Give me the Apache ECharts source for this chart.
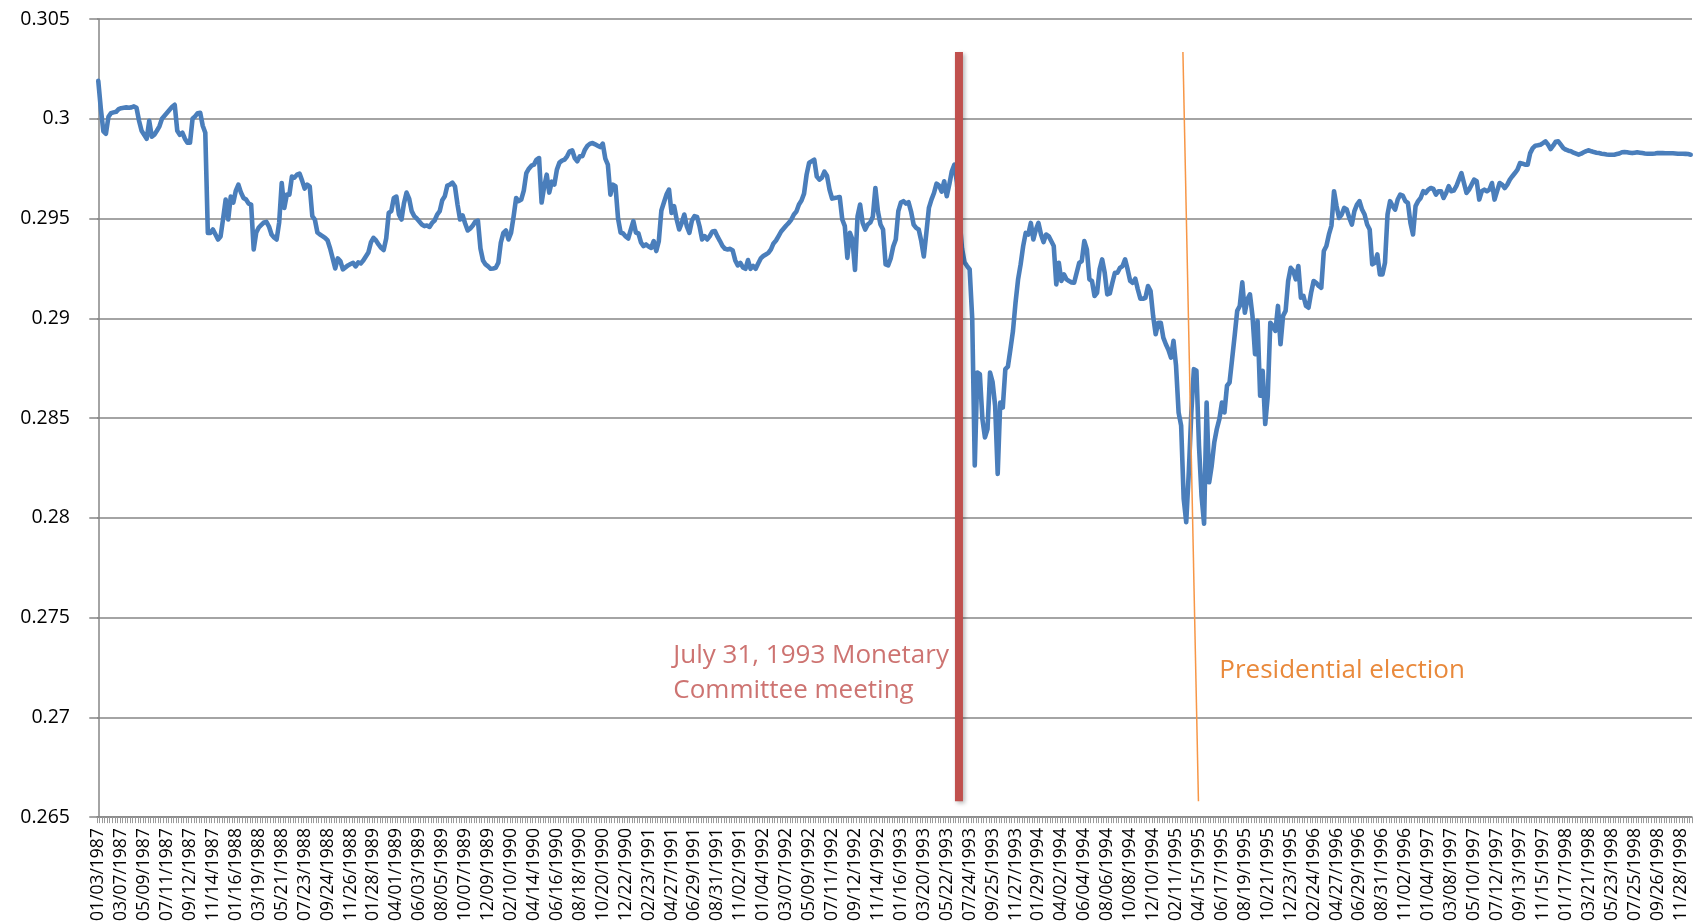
<!DOCTYPE html>
<html>
<head>
<meta charset="utf-8">
<script src="https://cdn.jsdelivr.net/npm/echarts@6/dist/echarts.min.js"></script>
<style>
  html, body { margin: 0; padding: 0; background: #ffffff; }
  #chart { width: 1702px; height: 924px; }
</style>
</head>
<body>
<div id="chart"></div>
<script>
// ---------------- DATA ----------------
// Weekly observations, first week ending 01/03/1987 (one value per week).
const FIRST_WEEK = '1987-01-03';
const LABEL_EVERY = 9; // one tick label every 9 weeks

const seriesValues = [
  // 0
  0.3019, 0.3005, 0.29937, 0.29925, 0.3001, 0.30028, 0.30032, 0.30035, 0.30048, 0.30053,
  // 10
  0.30055, 0.30057, 0.30055, 0.30057, 0.30062, 0.30055, 0.2999, 0.2994, 0.2992, 0.2990,
  // 20
  0.2999, 0.2991, 0.2992, 0.2994, 0.29962, 0.3000, 0.30015, 0.3003, 0.30045, 0.3006,
  // 30
  0.3007, 0.2994, 0.2992, 0.2993, 0.2990, 0.2988, 0.2988, 0.3000, 0.30012, 0.30028,
  // 40
  0.3003, 0.29965, 0.2993, 0.29428, 0.29428, 0.29445, 0.2942, 0.29395, 0.2941, 0.2950,
  // 50
  0.29595, 0.29495, 0.2961, 0.2958, 0.2964, 0.2967, 0.2963, 0.29603, 0.29595, 0.29575,
  // 60
  0.2957, 0.29345, 0.2943, 0.29455, 0.29468, 0.2948, 0.29483, 0.2946, 0.2942, 0.29405,
  // 70
  0.29395, 0.2948, 0.29678, 0.29553, 0.2962, 0.2962, 0.2971, 0.29705, 0.2972, 0.29725,
  // 80
  0.2969, 0.2965, 0.2967, 0.2966, 0.29512, 0.29495, 0.2943, 0.2942, 0.29412, 0.29403,
  // 90
  0.2939, 0.2935, 0.2930, 0.2925, 0.2930, 0.29287, 0.29245, 0.29255, 0.29265, 0.29272,
  // 100
  0.29278, 0.2926, 0.2928, 0.29275, 0.2929, 0.2931, 0.2933, 0.2938, 0.29403, 0.2939,
  // 110
  0.2937, 0.29353, 0.29342, 0.2940, 0.29528, 0.29537, 0.29603, 0.2961, 0.2952, 0.29495,
  // 120
  0.29578, 0.2963, 0.2960, 0.29537, 0.29512, 0.2950, 0.29485, 0.2947, 0.29462, 0.29465,
  // 130
  0.29458, 0.29478, 0.2949, 0.2952, 0.29537, 0.29592, 0.29612, 0.29665, 0.2967, 0.2968,
  // 140
  0.2966, 0.2957, 0.29495, 0.29515, 0.29475, 0.2944, 0.2945, 0.29465, 0.29485, 0.2949,
  // 150
  0.2935, 0.2929, 0.2927, 0.2926, 0.29248, 0.2925, 0.29253, 0.29278, 0.2938, 0.29428,
  // 160
  0.2944, 0.29395, 0.29428, 0.2951, 0.29603, 0.29587, 0.29595, 0.2964, 0.29728, 0.2975,
  // 170
  0.29765, 0.2977, 0.29795, 0.29803, 0.2958, 0.2966, 0.2972, 0.2963, 0.29685, 0.2967,
  // 180
  0.29745, 0.2978, 0.2979, 0.29795, 0.29812, 0.29837, 0.29842, 0.29803, 0.29787, 0.29812,
  // 190
  0.29812, 0.29845, 0.29865, 0.29875, 0.29878, 0.29872, 0.29865, 0.29858, 0.29875, 0.2980,
  // 200
  0.2977, 0.2962, 0.2967, 0.29662, 0.2950, 0.2943, 0.29425, 0.2941, 0.2940, 0.29445,
  // 210
  0.29487, 0.2943, 0.29425, 0.2938, 0.29362, 0.2937, 0.2936, 0.29353, 0.29387, 0.29337,
  // 220
  0.29387, 0.2954, 0.2958, 0.2962, 0.29645, 0.29528, 0.29562, 0.29495, 0.29445, 0.29478,
  // 230
  0.2952, 0.2946, 0.29428, 0.2949, 0.29512, 0.29508, 0.2946, 0.29395, 0.29412, 0.29395,
  // 240
  0.29412, 0.29435, 0.29437, 0.2941, 0.29387, 0.29362, 0.29348, 0.29345, 0.29348, 0.2934,
  // 250
  0.2929, 0.29265, 0.29278, 0.29255, 0.29248, 0.29292, 0.29248, 0.29262, 0.29248, 0.29275,
  // 260
  0.2930, 0.29312, 0.2932, 0.29328, 0.29345, 0.29375, 0.2939, 0.29412, 0.29435, 0.2945,
  // 270
  0.29465, 0.29478, 0.29495, 0.2952, 0.29535, 0.2957, 0.2959, 0.29625, 0.2972, 0.2978,
  // 280
  0.29787, 0.29795, 0.2971, 0.29695, 0.29705, 0.29735, 0.29715, 0.29645, 0.2960, 0.29603,
  // 290
  0.29605, 0.29608, 0.29495, 0.29462, 0.29303, 0.29428, 0.29395, 0.29242, 0.29512, 0.2957,
  // 300
  0.29478, 0.29445, 0.2947, 0.2948, 0.2951, 0.29653, 0.29535, 0.2947, 0.29445, 0.2927,
  // 310
  0.29265, 0.2930, 0.2936, 0.29395, 0.29537, 0.2958, 0.29587, 0.29575, 0.29582, 0.29535,
  // 320
  0.2947, 0.29453, 0.29445, 0.29387, 0.2931, 0.29428, 0.29553, 0.29595, 0.29628, 0.29675,
  // 330
  0.29665, 0.29635, 0.29687, 0.29612, 0.2967, 0.29737, 0.2977, 0.2968, 0.2950, 0.2935,
  // 340
  0.2928, 0.29262, 0.29245, 0.2900, 0.28262, 0.28728, 0.2872, 0.28495, 0.28403, 0.28445,
  // 350
  0.28728, 0.2868, 0.28562, 0.2822, 0.28578, 0.28553, 0.28745, 0.28758, 0.28845, 0.28937,
  // 360
  0.29078, 0.29195, 0.2927, 0.29362, 0.29428, 0.2942, 0.29478, 0.29395, 0.29445, 0.29478,
  // 370
  0.2942, 0.29382, 0.2942, 0.29412, 0.29387, 0.29362, 0.2917, 0.29278, 0.29187, 0.2922,
  // 380
  0.29195, 0.29187, 0.2918, 0.29178, 0.29228, 0.29278, 0.29287, 0.29387, 0.29345, 0.29195,
  // 390
  0.29187, 0.29112, 0.29128, 0.29245, 0.29295, 0.29228, 0.2912, 0.29125, 0.29178, 0.29228,
  // 400
  0.29228, 0.29253, 0.29262, 0.29295, 0.29245, 0.29187, 0.29178, 0.29198, 0.29145, 0.29098,
  // 410
  0.29098, 0.29103, 0.29162, 0.29137, 0.29012, 0.2892, 0.28978, 0.28978, 0.28903, 0.2887,
  // 420
  0.28842, 0.28803, 0.28887, 0.28762, 0.28528, 0.28462, 0.28095, 0.27978, 0.28228, 0.28528,
  // 430
  0.28745, 0.28737, 0.28362, 0.28112, 0.2797, 0.28578, 0.28178, 0.28262, 0.28378, 0.28445,
  // 440
  0.28495, 0.28578, 0.28528, 0.28662, 0.28678, 0.28795, 0.28912, 0.29037, 0.29062, 0.2918,
  // 450
  0.29028, 0.29095, 0.2912, 0.29012, 0.2882, 0.28987, 0.28612, 0.28737, 0.2847, 0.28612,
  // 460
  0.28978, 0.28962, 0.28937, 0.29062, 0.2887, 0.29012, 0.29037, 0.29187, 0.29253, 0.29237,
  // 470
  0.29195, 0.29262, 0.29103, 0.29112, 0.29062, 0.29053, 0.29128, 0.29187, 0.29178, 0.29162,
  // 480
  0.29153, 0.29337, 0.29362, 0.2942, 0.29465, 0.29637, 0.29562, 0.29503, 0.2952, 0.29553,
  // 490
  0.29545, 0.29503, 0.2947, 0.29537, 0.2957, 0.29587, 0.29545, 0.2952, 0.2947, 0.29445,
  // 500
  0.2927, 0.29278, 0.2932, 0.2922, 0.2922, 0.29278, 0.2952, 0.29587, 0.29562, 0.29545,
  // 510
  0.29595, 0.2962, 0.29615, 0.29587, 0.29578, 0.29478, 0.2942, 0.29562, 0.29587, 0.29603,
  // 520
  0.29637, 0.29628, 0.29645, 0.29653, 0.29648, 0.2962, 0.29637, 0.29637, 0.29603, 0.29628,
  // 530
  0.29662, 0.29637, 0.2964, 0.29662, 0.29695, 0.29728, 0.29678, 0.29628, 0.29645, 0.2967,
  // 540
  0.29695, 0.29687, 0.29595, 0.29637, 0.29645, 0.29637, 0.29645, 0.29678, 0.29595, 0.29637,
  // 550
  0.29678, 0.2967, 0.29653, 0.2967, 0.29695, 0.29712, 0.29728, 0.29745, 0.29778, 0.29775,
  // 560
  0.2977, 0.2977, 0.29828, 0.29853, 0.29865, 0.29867, 0.2987, 0.29878, 0.29887, 0.2987,
  // 570
  0.29848, 0.29865, 0.29885, 0.29887, 0.2987, 0.29853, 0.29845, 0.2984, 0.29837, 0.2983,
  // 580
  0.29825, 0.2982, 0.29825, 0.29832, 0.29838, 0.29842, 0.29837, 0.29833, 0.2983, 0.29828,
  // 590
  0.29825, 0.29823, 0.29821, 0.2982, 0.2982, 0.2982, 0.29823, 0.29826, 0.29832, 0.29833,
  // 600
  0.29832, 0.2983, 0.29828, 0.2983, 0.29832, 0.2983, 0.29828, 0.29826, 0.29825, 0.29825,
  // 610
  0.29825, 0.29826, 0.29828, 0.29828, 0.29828, 0.29827, 0.29827, 0.29827, 0.29827, 0.29826,
  // 620
  0.29825, 0.29825, 0.29825, 0.29824, 0.29823, 0.2982
];

// y-axis scale
const Y_MIN = 0.265;
const Y_MAX = 0.305;
const Y_STEP = 0.005;

// Annotations (in data units: week index, value)
const monetaryMeeting = { week: 337.8, top: 0.30335, bottom: 0.2658 };
const electionLine = { topWeek: 425.7, top: 0.30335, bottomWeek: 431.8, bottom: 0.2658 };
const monetaryText = { week: 225.5, value: 0.27222, text: 'July 31, 1993 Monetary\nCommittee meeting' };
const electionText = { week: 439.8, value: 0.27234, text: 'Presidential election' };

// ---------------- BUILD ----------------
function pad(n) { return n < 10 ? '0' + n : '' + n; }
const categories = (function () {
  const out = [];
  const p = FIRST_WEEK.split('-').map(Number);
  const d = new Date(Date.UTC(p[0], p[1] - 1, p[2]));
  for (let i = 0; i < seriesValues.length; i++) {
    out.push(pad(d.getUTCMonth() + 1) + '/' + pad(d.getUTCDate()) + '/' + d.getUTCFullYear());
    d.setUTCDate(d.getUTCDate() + 7);
  }
  return out;
})();
const N = categories.length;

const FONT = '"Open Sans", "Noto Sans", sans-serif';
const chart = echarts.init(document.getElementById('chart'), null, { renderer: 'canvas' });

chart.setOption({
  animation: false,
  backgroundColor: '#ffffff',
  grid: { left: 97, right: 10, top: 19, bottom: 104, containLabel: false },
  xAxis: [
    {
      type: 'category',
      data: categories,
      boundaryGap: true,
      axisLine: { show: true, lineStyle: { color: '#868686', width: 1.5 } },
      axisTick: { show: true, interval: 0, length: 6, lineStyle: { color: '#9a9a9a', width: 1 } },
      axisLabel: {
        interval: LABEL_EVERY - 1,
        rotate: 90,
        margin: 11,
        color: '#000000',
        fontFamily: FONT,
        fontSize: 17.5
      },
      splitLine: { show: false }
    },
    {
      type: 'value',
      min: -0.5,
      max: N - 0.5,
      show: false,
      splitLine: { show: false }
    }
  ],
  yAxis: {
    type: 'value',
    min: Y_MIN,
    max: Y_MAX,
    interval: Y_STEP,
    axisLine: { show: true, lineStyle: { color: '#868686', width: 1.5 } },
    axisTick: { show: true, length: 9, inside: false, lineStyle: { color: '#868686', width: 1.5 } },
    axisLabel: {
      margin: 27,
      color: '#000000',
      fontFamily: FONT,
      fontSize: 19.5,
      formatter: function (v) { return String(parseFloat(v.toFixed(4))); }
    },
    splitLine: { show: true, lineStyle: { color: '#868686', width: 1.5 } }
  },
  series: [
    {
      name: 'rate',
      type: 'line',
      data: seriesValues,
      symbol: 'none',
      smooth: false,
      z: 2,
      lineStyle: { color: '#4A7EBB', width: 4.6, join: 'round', cap: 'round' }
    },
    {
      name: 'monetary',
      type: 'line',
      xAxisIndex: 1,
      symbol: 'none',
      z: 3,
      data: [[monetaryMeeting.week, monetaryMeeting.top], [monetaryMeeting.week, monetaryMeeting.bottom]],
      lineStyle: {
        color: '#C0504D', width: 8, cap: 'butt',
        shadowColor: 'rgba(0,0,0,0.28)', shadowBlur: 4, shadowOffsetX: 2, shadowOffsetY: 2
      }
    },
    {
      name: 'election',
      type: 'line',
      xAxisIndex: 1,
      symbol: 'none',
      z: 3,
      data: [[electionLine.topWeek, electionLine.top], [electionLine.bottomWeek, electionLine.bottom]],
      lineStyle: { color: '#F79646', width: 1.5 }
    },
    {
      name: 'labels',
      type: 'scatter',
      xAxisIndex: 1,
      symbolSize: 1,
      itemStyle: { color: 'rgba(0,0,0,0)' },
      z: 4,
      data: [
        {
          value: [monetaryText.week, monetaryText.value],
          label: {
            show: true, position: 'right', distance: 0, formatter: monetaryText.text,
            color: '#C0504D', fontFamily: FONT, fontSize: 26, lineHeight: 35, align: 'left'
          }
        },
        {
          value: [electionText.week, electionText.value],
          label: {
            show: true, position: 'right', distance: 0, formatter: electionText.text,
            color: '#E36C0A', fontFamily: FONT, fontSize: 26, align: 'left'
          }
        }
      ]
    }
  ]
});
</script>
</body>
</html>
